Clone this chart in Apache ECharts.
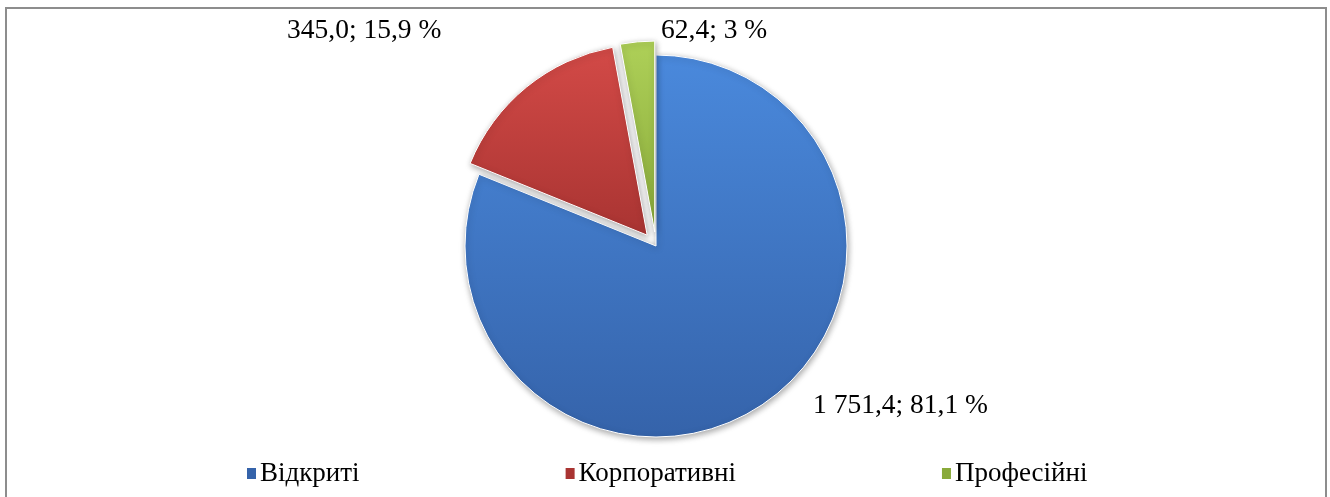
<!DOCTYPE html>
<html>
<head>
<meta charset="utf-8">
<script src="https://cdn.jsdelivr.net/npm/echarts@6/dist/echarts.min.js"></script>
<style>
    html, body { margin: 0; padding: 0; background: #fff; }
    #frame {
        position: absolute; left: 5px; top: 7px; width: 1318px; height: 492px;
        border-left: 2px solid #8d8d8d; border-top: 2px solid #8d8d8d; border-right: 2px solid #8d8d8d;
    }
    #chart { position: absolute; left: 0; top: 0; width: 1330px; height: 497px; }
</style>
</head>
<body>
<div id="frame"></div>
<div id="chart"></div>
<script>
// категорії та значення
var categories = ['Відкриті', 'Корпоративні', 'Професійні'];
var values = [1751.4, 345.0, 62.4];
var percents = ['81,1', '15,9', '3'];

// кольори секторів (світлий, темний)
var lightColors = ['#4a89dc', '#d34a47', '#aed058'];
var darkColors = ['#3563aa', '#a93432', '#89aa3a'];

/**
 * Формат числа: пробіл для тисяч, кома для дробу
 */
function formatValue(v) {
    var parts = v.toFixed(1).split('.');
    var intPart = parts[0].replace(/\B(?=(\d{3})+(?!\d))/g, ' ');
    return intPart + ',' + parts[1];
}

// позиції підписів (лівий край, центр по вертикалі)
var labelPos = [
    [813, 406],
    [287, 31],
    [661, 31]
];

var seriesData = [];
var labelTexts = [];
for (var i = 0; i < categories.length; i++) {
    seriesData.push({
        name: categories[i],
        value: values[i],
        selected: i > 0,
        itemStyle: {
            color: new echarts.graphic.LinearGradient(0, 0, 0, 1, [
                { offset: 0, color: lightColors[i] },
                { offset: 1, color: darkColors[i] }
            ])
        }
    });
    labelTexts.push({
        type: 'text',
        x: labelPos[i][0],
        y: labelPos[i][1],
        style: {
            text: formatValue(values[i]) + '; ' + percents[i] + ' %',
            fontFamily: 'Liberation Serif',
            fontSize: 27.5,
            fill: '#000',
            textAlign: 'left',
            textVerticalAlign: 'middle'
        }
    });
}

var option = {
    animation: false,
    legend: {
        bottom: 10,
        left: 245,
        padding: 0,
        itemGap: 204,
        itemWidth: 11,
        itemHeight: 13,
        icon: 'rect',
        textStyle: { fontFamily: 'Liberation Serif', fontSize: 27, color: '#000', padding: [0, 0, 0, -2] },
        data: categories.map(function(name, idx) {
            return { name: name, itemStyle: { color: darkColors[idx] } };
        })
    },
    graphic: labelTexts,
    series: [{
        type: 'pie',
        center: [656, 246],
        radius: 191,
        clockwise: true,
        startAngle: 90,
        selectedMode: 'multiple',
        selectedOffset: 14,
        emphasis: { disabled: true },
        itemStyle: {
            borderColor: '#ffffff',
            borderWidth: 1,
            shadowBlur: 6,
            shadowColor: 'rgba(0,0,0,0.35)',
            shadowOffsetX: 1,
            shadowOffsetY: 2
        },
        label: { show: false },
        labelLine: { show: false },
        data: seriesData
    }]
};

var chart = echarts.init(document.getElementById('chart'));
chart.setOption(option);
</script>
</body>
</html>
